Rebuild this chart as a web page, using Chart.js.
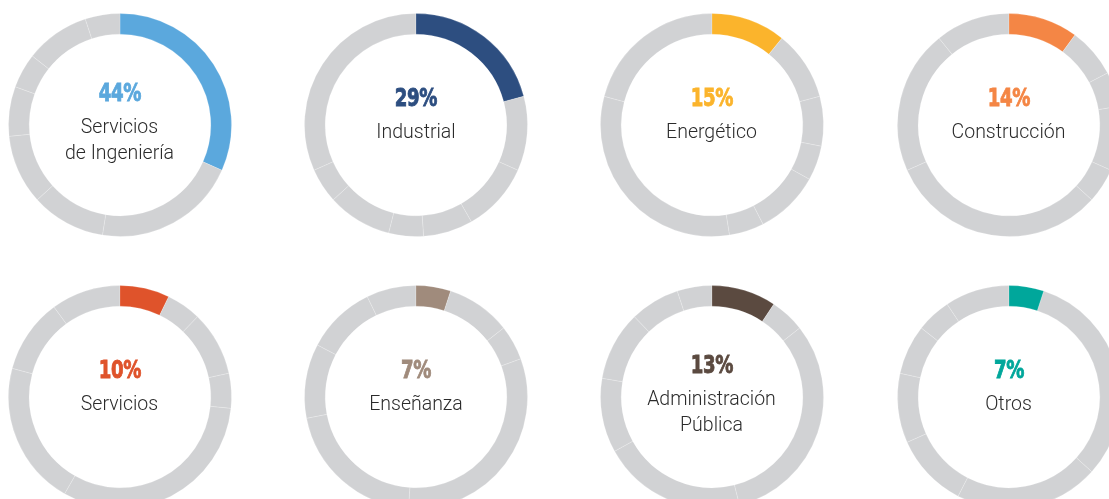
<!DOCTYPE html>
<html>
<head>
<meta charset="utf-8">
<script src="https://cdn.jsdelivr.net/npm/chart.js@4.4.1/dist/chart.umd.min.js"></script>
<style>
  html, body { margin: 0; padding: 0; background: #fff; }
  #page { position: relative; width: 1109px; height: 499px; overflow: hidden; }
  .donut { position: absolute; width: 230px; height: 230px; }
  .donut canvas { position: absolute; left: 0; top: 0; }
  .txt { position: absolute; left: -20px; width: 270px; text-align: center; white-space: nowrap; }
  .pct { font-family: "DejaVu Sans", sans-serif; font-weight: bold; font-size: 24.5px;
         line-height: 26px; transform: scaleX(0.74); letter-spacing: -0.5px;
         -webkit-text-stroke: 0.9px currentColor; }
  .lbl { font-family: Roboto, "Open Sans", sans-serif; font-weight: 300; font-size: 19.5px;
         line-height: 24px; color: #2b2b2b; }
</style>
</head>
<body>
<div id="page"></div>
<script>
// Sectors (label lines), share of respondents (%), highlight colours
const categories = [
  ['Servicios', 'de Ingeniería'],
  ['Industrial'],
  ['Energético'],
  ['Construcción'],
  ['Servicios'],
  ['Enseñanza'],
  ['Administración', 'Pública'],
  ['Otros']
];
const percentages = [44, 29, 15, 14, 10, 7, 13, 7];
const colors = ['#5ba8dd', '#2d4e80', '#fbb42c', '#f48645', '#df532b', '#a08b7c', '#5b4a40', '#00a79b'];
const restColor = '#d1d2d4';

// layout
const colX = [119.5, 416, 711.5, 1008.5];
const rowY = [124.5, 396.5];
const box = 230;

const total = percentages.reduce((a, b) => a + b, 0);
const page = document.getElementById('page');

percentages.forEach(function (v, i) {
    const cx = colX[i % 4], cy = rowY[Math.floor(i / 4)];
    const wrap = document.createElement('div');
    wrap.className = 'donut';
    wrap.style.left = (cx - box / 2) + 'px';
    wrap.style.top = (cy - box / 2) + 'px';
    const canvas = document.createElement('canvas');
    canvas.width = box; canvas.height = box;
    canvas.style.width = box + 'px'; canvas.style.height = box + 'px';
    wrap.appendChild(canvas);
    page.appendChild(wrap);

    // start the highlighted sector at 12 o'clock
    let before = 0;
    for (let k = 0; k < i; k++) before += percentages[k];

    new Chart(canvas.getContext('2d'), {
        type: 'doughnut',
        data: {
            labels: categories.map(c => c.join(' ')),
            datasets: [{
                data: percentages,
                backgroundColor: percentages.map((p, k) => k === i ? colors[i] : restColor),
                borderColor: 'rgba(255,255,255,0.5)',
                borderWidth: 0.4
            }]
        },
        options: {
            responsive: false,
            animation: false,
            rotation: -before / total * 360,
            radius: 111.5,
            cutout: 93.5,
            layout: { padding: 0 },
            plugins: { legend: { display: false }, tooltip: { enabled: false } }
        }
    });

    // centre text
    const lines = categories[i];
    const shift = (lines.length - 1) * 5;
    const pct = document.createElement('div');
    pct.className = 'txt pct';
    pct.style.color = colors[i];
    pct.textContent = v + '%';
    pct.style.top = (box / 2 - 27 - shift - 13) + 'px';
    wrap.appendChild(pct);
    lines.forEach(function (t, j) {
        const d = document.createElement('div');
        d.className = 'txt lbl';
        d.textContent = t;
        d.style.top = (box / 2 + 7 - shift + j * 26 - 12) + 'px';
        wrap.appendChild(d);
    });
});
</script>
</body>
</html>
